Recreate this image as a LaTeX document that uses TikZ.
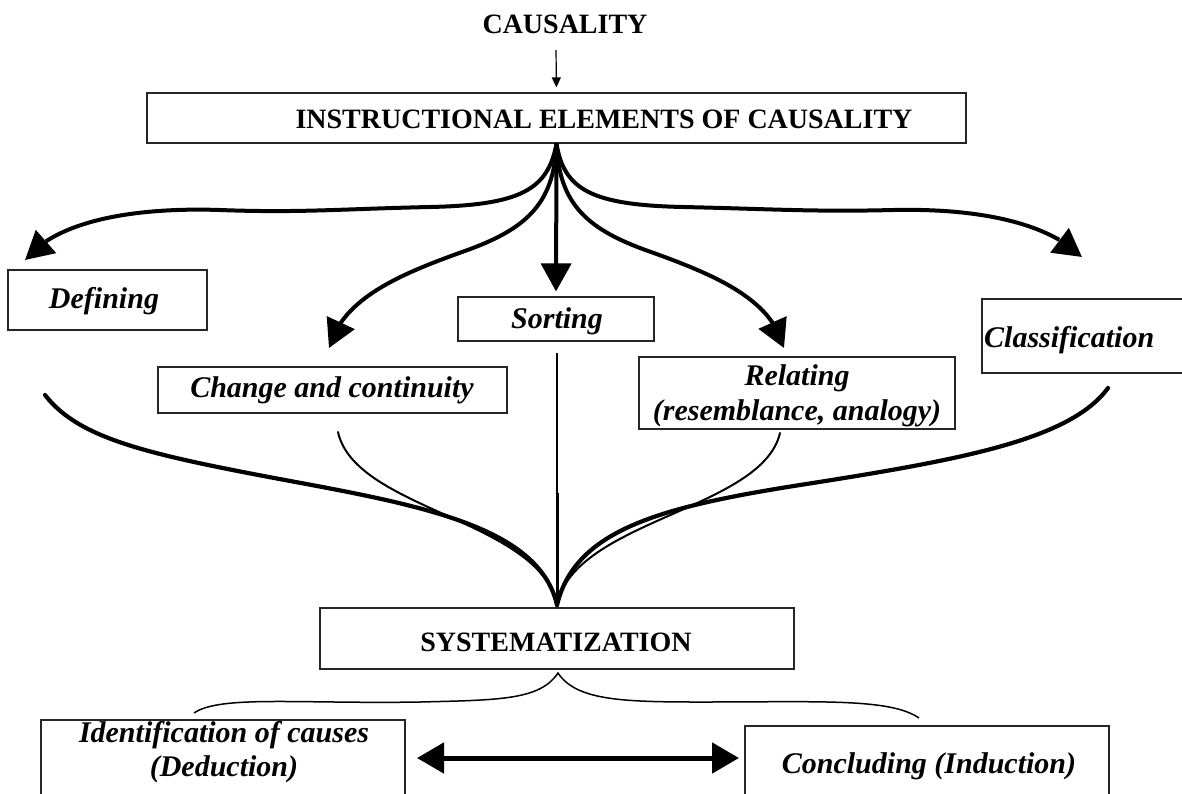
\documentclass[tikz,border=0pt]{standalone}
\usepackage{fontspec}
\setmainfont{Liberation Serif}
\usetikzlibrary{arrows.meta,bending}
\begin{document}
\begin{tikzpicture}[x=1pt,y=-1pt,
  box/.style={draw=black!85, line width=1.2pt, inner sep=0pt, rectangle},
  headtxt/.style={font=\fontsize{28}{30}\selectfont\bfseries, inner sep=0pt, anchor=base},
  labtxt/.style={font=\fontsize{30}{32}\selectfont\bfseries\itshape, inner sep=0pt, anchor=base},
  fanarrow/.style={line width=4pt, -{Triangle[length=28pt,width=30pt]}},
  thickcurve/.style={line width=4.2pt, line cap=round},
  thincurve/.style={line width=2pt, line cap=round},
]
\useasboundingbox (0,0) rectangle (1182,793);

% boxes
\node[box, minimum width=819pt, minimum height=50pt] (instr) at (556.5,118) {};
\node[box, minimum width=199pt, minimum height=60pt] (def) at (107.5,300) {};
\node[box, minimum width=196pt, minimum height=44pt] (sort) at (556,319) {};
\node[box, minimum width=349pt, minimum height=46pt] (change) at (332.5,390) {};
\node[box, minimum width=316pt, minimum height=72pt] (rel) at (797,393) {};
\node[box, minimum width=218pt, minimum height=74pt] (class) at (1091,336) {};
\node[box, minimum width=474pt, minimum height=61pt] (sys) at (557,638.5) {};
\node[box, minimum width=364pt, minimum height=84pt] (ident) at (223,762) {};
\node[box, minimum width=364pt, minimum height=78pt] (concl) at (927,765) {};

% texts
\node[headtxt] (cause) at (565,33) {CAUSALITY};
\node[headtxt] (instrt) at (604,128) {INSTRUCTIONAL ELEMENTS OF CAUSALITY};
\node[labtxt] (deft) at (104,308) {Defining};
\node[labtxt] (sortt) at (557,328) {Sorting};
\node[labtxt] (changet) at (332,397) {Change and continuity};
\node[labtxt] (relt1) at (797,385) {Relating};
\node[labtxt] (relt2) at (797,420) {(resemblance, analogy)};
\node[labtxt, anchor=base west] (classt) at (984,347) {Classification};
\node[headtxt] (syst) at (556,651) {SYSTEMATIZATION};
\node[labtxt] (identt1) at (224,742) {Identification of causes};
\node[labtxt] (identt2) at (224,776) {(Deduction)};
\node[labtxt] (conclt) at (929,773) {Concluding (Induction)};

% free ends
\coordinate (a0) at (556,50);
\coordinate (tipL) at (25,260);
\coordinate (tipR) at (1082,257);
\coordinate (tipCL) at (329,348);
\coordinate (tipCR) at (784,348);
\coordinate (m) at (557,605);
\coordinate (sL) at (45,395);
\coordinate (sCL) at (338,432);
\coordinate (sC) at (557,353);
\coordinate (sC2) at (557,493);
\coordinate (sCR) at (780,433);
\coordinate (sR) at (1108,388);
\coordinate (bt) at (558,673);
\coordinate (bL) at (194,713);
\coordinate (bR) at (919,718);
\coordinate (dl) at (417,758);
\coordinate (dr) at (739,758);

% top arrow
\draw[line width=1.2pt, -{Triangle[length=10pt,width=9pt]}, shorten >=5pt] (a0) -- (instr.north);

% fan
\draw[fanarrow] (instr.south) .. controls (548,190) and (520,205) .. (430,207)
   .. controls (340,209) and (300,213) .. (220,210)
   .. controls (130,207) and (55,222) .. (tipL);
\draw[fanarrow] (instr.south) .. controls (564,190) and (592,205) .. (683,207)
   .. controls (773,209) and (813,212) .. (893,210)
   .. controls (985,208) and (1050,225) .. (tipR);
\draw[fanarrow] (instr.south) .. controls (554,205) and (525,230) .. (462,252)
   .. controls (395,276) and (342,300) .. (tipCL);
\draw[fanarrow] (instr.south) .. controls (559,205) and (588,230) .. (651,252)
   .. controls (718,276) and (772,300) .. (tipCR);
\draw[fanarrow, shorten >=5pt] (instr.south) -- (sort.north);

% converging curves
\draw[thickcurve] (sL) .. controls (80,440) and (150,455) .. (301,483)
   .. controls (430,507) and (540,530) .. (m);
\draw[thincurve] (sCL) .. controls (355,510) and (540,520) .. (m);
\draw[line width=1.8pt] (sC) -- (sC2);
\draw[line width=3pt] (sC2) -- (m);
\draw[thincurve] (sCR) .. controls (762,510) and (574,520) .. (m);
\draw[thickcurve] (sR) .. controls (1070,440) and (960,460) .. (800,485)
   .. controls (660,507) and (575,530) .. (m);

% brace
\draw[line width=1.5pt] (bL) .. controls (220,695) and (300,704) .. (420,702)
   .. controls (500,700) and (540,700) .. (bt)
   .. controls (576,700) and (620,702) .. (700,702)
   .. controls (820,702) and (890,698) .. (bR);

% double arrow
\draw[line width=5pt, {Triangle[length=27pt,width=30pt]}-{Triangle[length=27pt,width=30pt]}] (dl) -- (dr);
\end{tikzpicture}
\end{document}
